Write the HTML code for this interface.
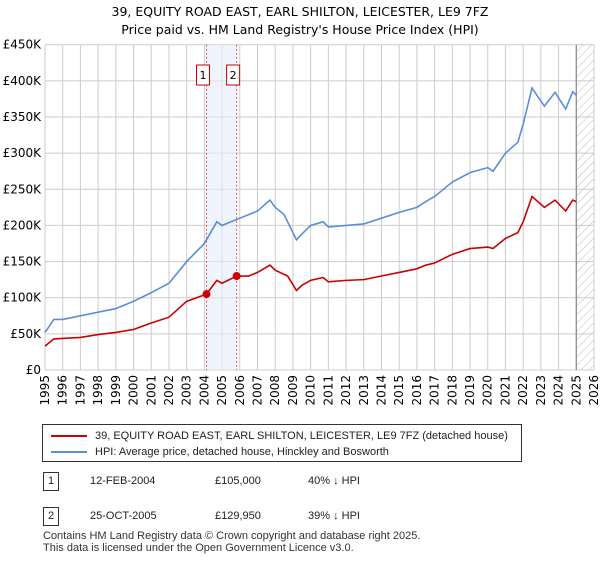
<!DOCTYPE html>
<html><head><meta charset="utf-8"><style>
body{margin:0;background:#fff;font-family:"Liberation Sans","DejaVu Sans",sans-serif;color:#222}
svg text{font-family:"DejaVu Sans","Liberation Sans",sans-serif}
</style></head><body>
<svg id="c" width="600" height="560" viewBox="0 0 600 560">
<defs><pattern id="hatch" width="6" height="6" patternUnits="userSpaceOnUse" patternTransform="rotate(45)"><line x1="0" y1="0" x2="0" y2="6" stroke="#bbb" stroke-width="1"/></pattern></defs>
<text x="300" y="16" text-anchor="middle" font-size="12.5">39, EQUITY ROAD EAST, EARL SHILTON, LEICESTER, LE9 7FZ</text>
<text x="300" y="34" text-anchor="middle" font-size="12.5">Price paid vs. HM Land Registry's House Price Index (HPI)</text>
<g id="grid"></g><g id="marks"></g>
</svg>
<script>
const hpiYears=[1995,1995.5,1996,1997,1998,1999,2000,2001,2002,2003,2004,2004.7,2005,2006,2006.5,2007,2007.7,2008,2008.5,2009.2,2009.5,2010,2010.7,2011,2012,2013,2014,2015,2016,2016.5,2017,2018,2019,2020,2020.3,2021,2021.7,2022,2022.5,2023.2,2023.8,2024.4,2024.8,2025];
const hpiValues=[52000,70000,70000,75000,80000,85000,95000,107000,120000,150000,175000,205000,200000,210000,215000,220000,235000,225000,215000,180000,188000,200000,205000,198000,200000,202000,210000,218000,225000,233000,240000,260000,273000,280000,275000,300000,315000,340000,390000,365000,384000,361000,385000,380000];
const ppYears=[1995,1995.5,1997,1998,1999,2000,2001,2002,2003,2004.12,2004.7,2005,2005.82,2006.5,2007,2007.7,2008,2008.7,2009.2,2009.5,2010,2010.7,2011,2012,2013,2014,2015,2016,2016.5,2017,2018,2019,2020,2020.3,2021,2021.7,2022,2022.5,2023.2,2023.8,2024.4,2024.8,2025];
const ppValues=[33000,43000,45000,49000,52000,56000,65000,73000,95000,105000,124000,120000,129950,130000,135000,145000,138000,130000,110000,117000,124000,128000,122000,124000,125000,130000,135000,140000,145000,148000,160000,168000,170000,168000,182000,190000,205000,240000,225000,235000,220000,235000,233000];
const saleYears=[2004.12,2005.82];
const salePrices=[105000,129950];
const saleLabels=["1","2"];
const yTicks=[0,50000,100000,150000,200000,250000,300000,350000,400000,450000];
const yTickLabels=["£0","£50K","£100K","£150K","£200K","£250K","£300K","£350K","£400K","£450K"];
const xTicks=[1995,1996,1997,1998,1999,2000,2001,2002,2003,2004,2005,2006,2007,2008,2009,2010,2011,2012,2013,2014,2015,2016,2017,2018,2019,2020,2021,2022,2023,2024,2025,2026];
const L=45,R=594,T=44.7,B=370,x0=1995,x1=2026,ymax=450000,dataEnd=2025.0;
const X=v=>L+(v-x0)/(x1-x0)*(R-L), Y=v=>B-v/ymax*(B-T);
const NS="http://www.w3.org/2000/svg";
function mk(p,t,a){const e=document.createElementNS(NS,t);for(const k in a)e.setAttribute(k,a[k]);p.appendChild(e);return e;}
const g=document.getElementById('grid'),m=document.getElementById('marks');
yTicks.forEach((v,i)=>{const l=mk(g,'line',{x1:L,x2:R,y1:Y(v),y2:Y(v),stroke:'#ccc'});

const t=mk(g,'text',{x:L-4,y:Y(v)+4,'text-anchor':'end','font-size':12});t.textContent=yTickLabels[i];
});
xTicks.forEach(v=>{const l=mk(g,'line',{x1:X(v),x2:X(v),y1:T,y2:B,stroke:'#ccc'});

const t=mk(g,'text',{x:0,y:0,'text-anchor':'end','font-size':12,transform:`translate(${X(v)+4},${B+5}) rotate(-90)`});t.textContent=v;
});
const sh=mk(m,'rect',{x:X(saleYears[0]),y:T,width:X(saleYears[1])-X(saleYears[0]),height:B-T,fill:'#e6edfa',opacity:0.6});

const hz=mk(m,'rect',{x:X(dataEnd),y:T,width:R-X(dataEnd),height:B-T,fill:'url(#hatch)'});

const el=mk(m,'line',{x1:X(dataEnd),x2:X(dataEnd),y1:T,y2:B,stroke:'#888','stroke-width':1.2});

saleYears.forEach((s,i)=>{const l=mk(m,'line',{x1:X(s),x2:X(s),y1:T,y2:B,stroke:'#e55','stroke-dasharray':'2,2'});

const bx=X(s)-10;
const r=mk(m,'rect',{x:bx,y:65,width:13,height:20,fill:'#fff',stroke:'#c00'});

const t=mk(m,'text',{x:bx+6.5,y:79,'text-anchor':'middle','font-size':11});t.textContent=saleLabels[i];
});
const hp=mk(m,'polyline',{points:hpiYears.map((y,i)=>X(y)+','+Y(hpiValues[i])).join(' '),fill:'none',stroke:'#5b8ed6','stroke-width':1.6});

const pp=mk(m,'polyline',{points:ppYears.map((y,i)=>X(y)+','+Y(ppValues[i])).join(' '),fill:'none',stroke:'#cc0000','stroke-width':1.6});

saleYears.forEach((s,i)=>{const c=mk(m,'circle',{cx:X(s),cy:Y(salePrices[i]),r:4,fill:'#cc0000'});
});
</script>
<div style="position:absolute;left:42px;top:424px;width:478px;height:36px;border:1px solid #333;font-size:11px">
<div style="position:absolute;left:8px;top:5px"><span style="display:inline-block;width:36px;border-top:2px solid #c00;vertical-align:middle;margin-right:8px"></span>39, EQUITY ROAD EAST, EARL SHILTON, LEICESTER, LE9 7FZ (detached house)</div>
<div style="position:absolute;left:8px;top:21px"><span style="display:inline-block;width:36px;border-top:2px solid #5b8ed6;vertical-align:middle;margin-right:8px"></span>HPI: Average price, detached house, Hinckley and Bosworth</div>
</div>
<div style="position:absolute;left:0;top:472px;width:600px;font-size:11px">
<div style="position:absolute;left:43px;top:0;width:14px;height:17px;border:1px solid #333;text-align:center;line-height:17px">1</div>
<div style="position:absolute;left:90px;top:3px">12-FEB-2004</div><div style="position:absolute;left:215px;top:3px">£105,000</div><div style="position:absolute;left:308px;top:3px">40% ↓ HPI</div>
<div style="position:absolute;left:43px;top:35px;width:14px;height:17px;border:1px solid #333;text-align:center;line-height:17px">2</div>
<div style="position:absolute;left:90px;top:38px">25-OCT-2005</div><div style="position:absolute;left:215px;top:38px">£129,950</div><div style="position:absolute;left:308px;top:38px">39% ↓ HPI</div>
</div>
<div style="position:absolute;left:43px;top:530px;font-size:11px;line-height:12px;color:#333">Contains HM Land Registry data © Crown copyright and database right 2025.<br>This data is licensed under the Open Government Licence v3.0.</div>
</body></html>
